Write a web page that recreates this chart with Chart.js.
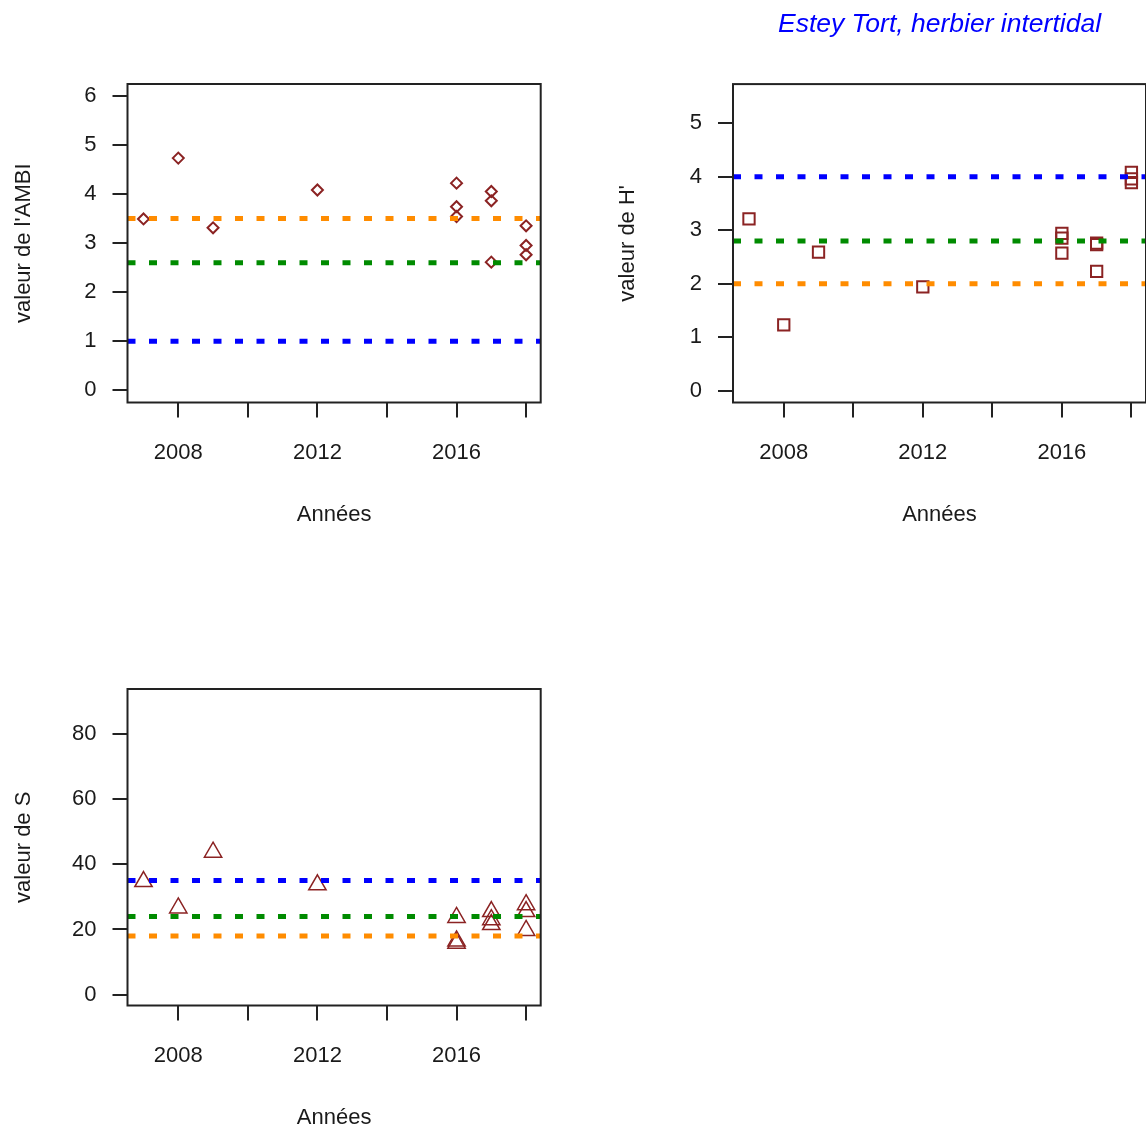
<!DOCTYPE html>
<html>
<head>
<meta charset="utf-8">
<script src="https://cdn.jsdelivr.net/npm/chart.js@4"></script>
<style>
  html, body { margin: 0; padding: 0; background: #fff; overflow: hidden; }
  canvas { position: absolute; }
</style>
</head>
<body>
<canvas id="ambiChart" style="left:0;top:0" width="573" height="564"></canvas>
<canvas id="hChart" style="left:573px;top:0" width="573" height="564"></canvas>
<canvas id="sChart" style="left:0;top:564px" width="573" height="565"></canvas>
<script>
// sampling years (one entry per point)
const years = [2007, 2008, 2009, 2012, 2016, 2016, 2016, 2017, 2017, 2017, 2018, 2018, 2018];
const ambiValues = [3.49, 4.73, 3.31, 4.08, 4.22, 3.74, 3.54, 4.05, 3.86, 2.61, 3.35, 2.95, 2.76];
const hValues = [3.21, 1.23, 2.59, 1.94, 2.94, 2.85, 2.57, 2.76, 2.73, 2.23, 4.08, 3.96, 3.89];
const sValues = [34.7, 26.6, 43.7, 33.7, 23.7, 16.5, 15.8, 25.5, 23, 21.5, 27.6, 25.5, 19.7];

// reference thresholds (dotted lines)
const ambiRefs = [3.5, 2.6, 1.0];
const ambiRefColors = ["#FF8C00", "#008B00", "#0000FF"];
const hRefs = [4.0, 2.8, 2.0];
const hRefColors = ["#0000FF", "#008B00", "#FF8C00"];
const sRefs = [35, 24, 18];
const sRefColors = ["#0000FF", "#008B00", "#FF8C00"];

// ticks
const yearTicks = [2008, 2010, 2012, 2014, 2016, 2018];
const yearLabels = ["2008", "", "2012", "", "2016", ""];
const ambiTicks = [0, 1, 2, 3, 4, 5, 6];
const hTicks = [0, 1, 2, 3, 4, 5];
const sTicks = [0, 20, 40, 60, 80];

const xMin = 2006.54, xMax = 2018.42;
const brown = "#8B2323";
const ink = "#1a1a1a";
const fam = "'Liberation Sans', Arial, sans-serif";

const boxPlugin = {
    id: "box",
    afterDatasetsDraw(chart) {
        const a = chart.chartArea, ctx = chart.ctx;
        ctx.save();
        ctx.strokeStyle = "#222";
        ctx.lineWidth = 2;
        ctx.strokeRect(a.left, a.top, a.right - a.left, a.bottom - a.top);
        ctx.restore();
    }
};

function makePanel(id, p) {
    const refSets = p.refs.map((v, i) => ({
        data: [{x: xMin, y: v}, {x: xMax, y: v}],
        showLine: true,
        borderColor: p.refColors[i],
        borderWidth: 5,
        borderDash: [8, 13.5],
        pointRadius: 0,
        order: 0
    }));

    new Chart(document.getElementById(id), {
        type: "scatter",
        data: {
            datasets: [{
                data: years.map((yr, i) => ({x: yr, y: p.values[i]})),
                pointStyle: p.marker,
                pointRadius: p.radius,
                pointBorderColor: brown,
                pointBackgroundColor: "rgba(0,0,0,0)",
                pointBorderWidth: p.markerWidth,
                order: 1
            }, ...refSets]
        },
        options: {
            responsive: false,
            animation: false,
            events: [],
            layout: {
                autoPadding: false,
                padding: {top: p.top, right: p.right, left: 0, bottom: 0}
            },
            plugins: {
                legend: {display: false},
                tooltip: {enabled: false},
                title: p.title ? {
                    display: true,
                    text: p.title,
                    color: "#0000FF",
                    fullSize: false,
                    font: {family: fam, size: 26.5, style: "italic", weight: "normal", lineHeight: 1.2},
                    padding: {top: 9.2, bottom: 43.1}
                } : {display: false}
            },
            scales: {
                x: {
                    type: "linear",
                    min: xMin,
                    max: xMax,
                    afterBuildTicks: s => { s.ticks = yearTicks.map(v => ({value: v})); },
                    afterFit: s => {
                        s.height = p.xHeight;
                        s.paddingLeft = 0;
                        s.paddingRight = 0;
                    },
                    ticks: {
                        autoSkip: false,
                        maxRotation: 0,
                        padding: 21.8,
                        color: ink,
                        font: {family: fam, size: 22},
                        callback: v => yearLabels[yearTicks.indexOf(v)]
                    },
                    grid: {drawOnChartArea: false, tickLength: 15, lineWidth: 2, color: "#222"},
                    border: {display: false},
                    title: {
                        display: true,
                        text: "Années",
                        color: ink,
                        font: {family: fam, size: 22, lineHeight: 0.8},
                        padding: {top: 0, bottom: p.xTitlePad}
                    }
                },
                y: {
                    type: "linear",
                    min: p.yMin,
                    max: p.yMax,
                    afterBuildTicks: s => { s.ticks = p.ticks.map(v => ({value: v})); },
                    afterFit: s => {
                        s.width = p.yWidth;
                        s.paddingTop = 0;
                        s.paddingBottom = 0;
                    },
                    ticks: {
                        padding: 16,
                        color: ink,
                        font: {family: fam, size: 22}
                    },
                    grid: {drawOnChartArea: false, tickLength: 15, lineWidth: 2, color: "#222"},
                    border: {display: false},
                    title: {
                        display: true,
                        text: p.yTitle,
                        color: ink,
                        font: {family: fam, size: 22, lineHeight: 1},
                        padding: {top: p.yTitlePad, bottom: 0}
                    }
                }
            }
        },
        plugins: [boxPlugin]
    });
}

makePanel("ambiChart", {
    values: ambiValues, refs: ambiRefs, refColors: ambiRefColors,
    marker: "rectRot", radius: 5.5, markerWidth: 2,
    ticks: ambiTicks, yMin: -0.25, yMax: 6.24, yTitle: "valeur de l'AMBI",
    top: 84, right: 32.3, yWidth: 127.5, xHeight: 161.5, xTitlePad: 40.2, yTitlePad: 13
});

makePanel("hChart", {
    values: hValues, refs: hRefs, refColors: hRefColors,
    marker: "rect", radius: 8, markerWidth: 2,
    ticks: hTicks, yMin: -0.22, yMax: 5.73, yTitle: "valeur de H'",
    title: "Estey Tort, herbier intertidal",
    top: 0, right: 0, yWidth: 160, xHeight: 161.5, xTitlePad: 40.2, yTitlePad: 44
});

makePanel("sChart", {
    values: sValues, refs: sRefs, refColors: sRefColors,
    marker: "triangle", radius: 10, markerWidth: 1.5,
    ticks: sTicks, yMin: -3.3, yMax: 93.7, yTitle: "valeur de S",
    top: 125, right: 32.3, yWidth: 127.5, xHeight: 123.5, xTitlePad: 2.2, yTitlePad: 13
});
</script>
</body>
</html>
